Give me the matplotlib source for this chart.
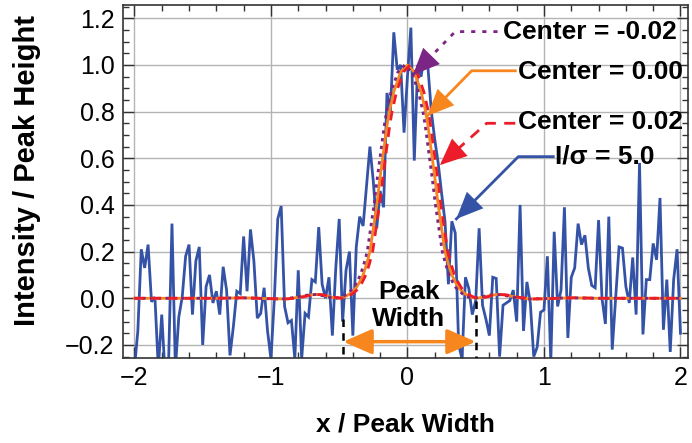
import numpy as np
import matplotlib
matplotlib.use("Agg")
import matplotlib.pyplot as plt
from matplotlib.ticker import MultipleLocator, FixedLocator

plt.rcParams['font.family'] = ['Liberation Sans', 'DejaVu Sans']

# ---------------- data ----------------
x_start, x_stop, n_points = -2.0, 2.0, 161
signal_noisy = [
    -0.30, -0.14, 0.21, 0.13, 0.23, -0.015, 0.005, -0.30, -0.07, -0.33,
    -0.28, 0.32, -0.30, -0.08, 0.005, 0.18, 0.23, -0.07, 0.16, 0.22,
    -0.20, 0.05, 0.10, -0.02, 0.03, -0.07, 0.135, 0.035, -0.245, -0.12,
    0.03, 0.02, 0.265, 0.03, 0.295, 0.16, -0.085, -0.065, 0.045, -0.14,
    -0.26, 0.0, 0.34, 0.395, -0.035, -0.105, -0.095, -0.26, 0.12, -0.26,
    -0.065, -0.08, 0.08, 0.07, 0.305, 0.06, 0.0, 0.09, -0.16, 0.13,
    0.34, -0.10, 0.12, 0.20, -0.16, 0.22, 0.35, 0.31, 0.48, 0.65,
    0.50, 0.30, 0.46, 0.39, 0.88, 0.80, 1.14, 0.98, 1.00, 0.71,
    0.95, 1.16, 0.59, 1.00, 0.95, 1.05, 0.99, 0.80, 0.68, 0.58,
    0.45, 0.33, 0.06, 0.33, 0.28, -0.20, -0.26, 0.09, 0.04, -0.07,
    -0.01, 0.30, -0.03, -0.09, -0.16, 0.09, 0.085, -0.25, -0.03, -0.02,
    -0.01, 0.035, -0.10, 0.40, -0.14, 0.07, -0.02, -0.25, -0.21, -0.06,
    -0.05, 0.18, -0.27, 0.285, -0.035, 0.035, 0.39, -0.17, 0.09, 0.13,
    0.32, 0.23, 0.27, 0.13, 0.055, 0.045, 0.335, 0.0, -0.11, 0.35,
    -0.22, 0.0, 0.22, 0.215, 0.05, -0.02, 0.175, -0.07, 0.58, -0.155,
    0.08, 0.08, 0.235, 0.165, 0.43, -0.135, 0.08, -0.23, 0.08, 0.21,
    -0.15,
]

# half-profile of the fitted peak (offset from centre, value)
profile_dx = [0.0, 0.05, 0.10, 0.133, 0.15, 0.175, 0.20, 0.225, 0.25, 0.275,
              0.30, 0.325, 0.35, 0.375, 0.40, 0.425, 0.45, 0.475, 0.50, 0.55,
              0.60, 0.65, 0.70, 0.75, 0.80, 0.85, 0.90, 1.00, 1.10, 1.20,
              1.40, 1.60, 1.80, 2.05]
profile_y = [1.0, 0.97, 0.885, 0.80, 0.74, 0.63, 0.52, 0.40, 0.30, 0.20,
             0.145, 0.10, 0.07, 0.045, 0.03, 0.018, 0.009, 0.003, 0.0, 0.004,
             0.011, 0.016, 0.015, 0.010, 0.004, 0.0, -0.003, -0.002, 0.0, 0.002,
             0.0, 0.0, 0.0, 0.0]

centers = [-0.02, 0.00, 0.02]
center_labels = ["Center = -0.02", "Center = 0.00", "Center = 0.02"]
noise_label = "I/\u03c3 = 5.0"
peak_width_edges = [-0.47, 0.50]

xticks = [-2, -1, 0, 1, 2]
xticklabels = ["\u22122", "\u22121", "0", "1", "2"]
yticks = [-0.2, 0.0, 0.2, 0.4, 0.6, 0.8, 1.0, 1.2]
yticklabels = ["\u22120.2", "0.0", "0.2", "0.4", "0.6", "0.8", "1.0", "1.2"]

# ---------------- styles ----------------
c_blue = "#3553a6"
c_orange = "#f7861f"
c_red = "#ec1c2a"
c_purple = "#7b2584"

fig = plt.figure(figsize=(6.92, 4.43), dpi=100)
ax = fig.add_axes([0.1777, 0.1919, 0.9942 - 0.1777, 0.9887 - 0.1919])

xs = np.linspace(x_start, x_stop, n_points)
ax.plot(xs, signal_noisy, color=c_blue, lw=2.0, zorder=2, solid_joinstyle='miter')

dx = np.array(profile_dx)
py = np.array(profile_y)
full_dx = np.concatenate([-dx[::-1], dx[1:]])
full_y = np.concatenate([py[::-1], py[1:]])


def curve(c):
    xx = np.clip(full_dx + c, x_start, x_stop)
    return xx, full_y

xo, yo = curve(centers[1])
ax.plot(xo, yo, color=c_orange, lw=2.0, zorder=3)
xp, yp = curve(centers[0])
ax.plot(xp, yp, color=c_purple, lw=2.0, ls=(0, (1.2, 1.6)), zorder=4)
xr, yr = curve(centers[2])
ax.plot(xr, yr, color=c_red, lw=2.0, ls=(0, (3.5, 2.5)), zorder=5)

ax.set_xlim(-2.084, 2.055)
ax.set_ylim(-0.256, 1.257)

ax.xaxis.set_major_locator(FixedLocator(xticks))
ax.set_xticklabels(xticklabels)
ax.yaxis.set_major_locator(FixedLocator(yticks))
ax.set_yticklabels(yticklabels)
ax.xaxis.set_minor_locator(MultipleLocator(0.2))
ax.yaxis.set_minor_locator(MultipleLocator(0.05))
ax.tick_params(which='both', direction='in', top=True, right=True,
               color='#333333', width=1.0)
ax.tick_params(which='major', length=8, labelsize=18, pad=6)
ax.tick_params(which='minor', length=4)
ax.grid(True, which='major', color='#b4b4b4', lw=1.0, zorder=0)
ax.set_axisbelow(True)
for s in ax.spines.values():
    s.set_color('#333333')
    s.set_linewidth(1.2)

ax.set_xlabel("x / Peak Width", fontsize=19, fontweight='bold', labelpad=16)
ax.set_ylabel("Intensity / Peak Height", fontsize=21, fontweight='bold')
ax.yaxis.set_label_coords(-0.145, 0.53)

# ---------------- annotations ----------------
fs = 19


def head(tip, frm, color):
    ax.annotate('', xy=tip, xytext=frm,
                arrowprops=dict(arrowstyle='-|>,head_length=0.8,head_width=0.35',
                                color=color, lw=0, shrinkA=0, shrinkB=0,
                                mutation_scale=24), zorder=7)

# purple (centre -0.02)
ax.plot([0.66, 0.35, 0.04], [1.143, 1.143, 0.957], color=c_purple, lw=2.0,
        ls=(0, (1.5, 2.5)), zorder=6)
head((0.04, 0.957), (0.35, 1.143), c_purple)
ax.text(0.70, 1.143, center_labels[0], fontsize=fs, fontweight='bold',
        ha='left', va='center', zorder=8)

# orange (centre 0.00)
ax.plot([0.79, 0.47, 0.145], [0.975, 0.975, 0.781], color=c_orange, lw=2.0, zorder=6)
head((0.145, 0.781), (0.47, 0.975), c_orange)
ax.text(0.81, 0.971, center_labels[1], fontsize=fs, fontweight='bold',
        ha='left', va='center', zorder=8)

# red (centre 0.02)
ax.plot([0.79, 0.58, 0.238], [0.75, 0.75, 0.571], color=c_red, lw=2.0,
        ls=(0, (4, 3)), zorder=6)
head((0.238, 0.571), (0.58, 0.75), c_red)
ax.text(0.81, 0.757, center_labels[2], fontsize=fs, fontweight='bold',
        ha='left', va='center', zorder=8)

# blue (noisy data)
ax.plot([1.068, 0.812, 0.358], [0.607, 0.607, 0.34], color=c_blue, lw=2.0, zorder=6)
head((0.358, 0.34), (0.812, 0.607), c_blue)
ax.text(1.08, 0.607, noise_label, fontsize=fs, fontweight='bold',
        ha='left', va='center', zorder=8)

# peak width marker
ax.plot([peak_width_edges[0]] * 2, [-0.09, -0.256], color='black', lw=1.8,
        ls=(0, (3, 2.5)), zorder=6)
ax.plot([peak_width_edges[1]] * 2, [-0.01, -0.256], color='black', lw=1.8,
        ls=(0, (3, 2.5)), zorder=6)
ax.annotate('', xy=(peak_width_edges[1], -0.186), xytext=(peak_width_edges[0], -0.186),
            arrowprops=dict(arrowstyle='<|-|>,head_length=0.8,head_width=0.35',
                            color=c_orange, lw=2.5, shrinkA=0, shrinkB=0,
                            mutation_scale=22), zorder=7)
ax.text(0.01, -0.032, "Peak\nWidth", fontsize=fs, fontweight='bold',
        ha='center', va='center', linespacing=1.15, zorder=8)

fig.savefig("out.png", dpi=100)
